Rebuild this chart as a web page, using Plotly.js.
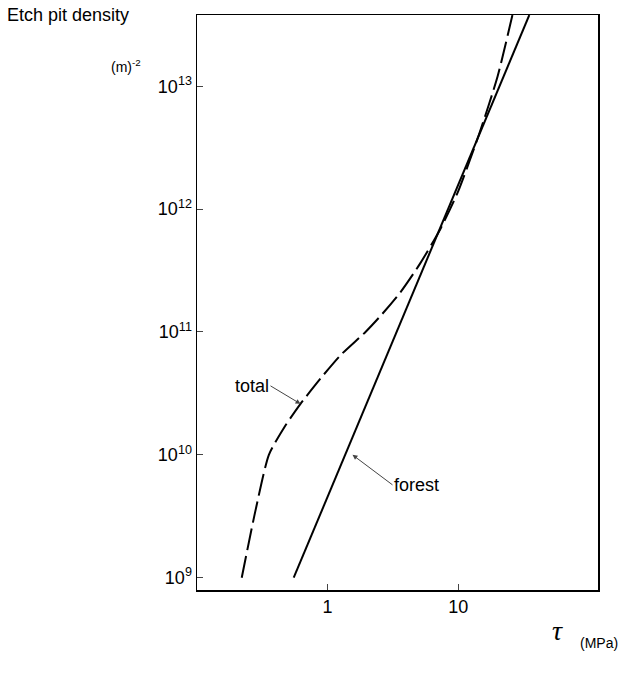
<!DOCTYPE html>
<html><head><script src="https://cdn.plot.ly/plotly-3.0.1.min.js"></script></head>
<body style="margin:0"><div id="plot" style="width:624px;height:684px"></div>
<script>
// shear stress tau (MPa) vs etch pit density (m^-2)
const forestTau = [0.55, 35];
const forestRho = [1e9, 3.8e13];
const totalTau = [0.22, 0.28, 0.355, 0.47, 0.62, 0.885, 1.26, 1.95, 2.54, 3.6, 5.1, 7.3, 10, 14.7, 20, 26];
const totalRho = [1e9, 3.5e9, 1e10, 1.7e10, 2.6e10, 4.2e10, 6.5e10, 1.0e11, 1.35e11, 2.1e11, 3.6e11, 6.9e11, 1.4e12, 4.3e12, 1.2e13, 3.8e13];
const yTicks = [1e9, 1e10, 1e11, 1e12, 1e13];
const yLabels = ["10<sup>9</sup>", "10<sup>10</sup>", "10<sup>11</sup>", "10<sup>12</sup>", "10<sup>13</sup>"];
const font = {family: "Liberation Sans, Arial, sans-serif", size: 18, color: "#000"};

const traces = [
  {x: totalTau, y: totalRho, mode: "lines", line: {color: "#000", width: 2, dash: "22px,6px", shape: "spline", smoothing: 0.6}},
  {x: forestTau, y: forestRho, mode: "lines", line: {color: "#000", width: 2}}
];

const layout = {
  showlegend: false,
  margin: {l: 197, r: 26, t: 15, b: 94},
  plot_bgcolor: "#fff", paper_bgcolor: "#fff",
  font: font,
  xaxis: {type: "log", range: [-1, 2.07], tickvals: [1, 10], ticktext: ["1", "10"],
    ticks: "inside", ticklen: 6, showgrid: false, zeroline: false,
    showline: true, mirror: true, linecolor: "#000", linewidth: 1.5, tickfont: font},
  yaxis: {type: "log", range: [8.9, 13.58], tickvals: yTicks, ticktext: yLabels,
    ticks: "inside", ticklen: 6, showgrid: false, zeroline: false,
    showline: true, mirror: true, linecolor: "#000", linewidth: 1.5, tickfont: font},
  annotations: [
    {xref: "paper", yref: "paper", x: -0.48, y: 1.0, xanchor: "left", yanchor: "bottom", yshift: -12,
      text: "Etch pit density", showarrow: false, font: font},
    {xref: "paper", yref: "paper", x: -0.22, y: 0.93, xanchor: "left", text: "(m)<sup>-2</sup>",
      showarrow: false, font: {family: font.family, size: 14, color: "#000"}},
    {xref: "paper", yref: "paper", x: 0.88, y: -0.1, xanchor: "left",
      text: "<i>τ</i>", showarrow: false, font: {family: "Liberation Serif, serif", size: 28, color: "#000"}},
    {xref: "paper", yref: "paper", x: 0.95, y: -0.11, xanchor: "left",
      text: "(MPa)", showarrow: false, font: {family: font.family, size: 14, color: "#000"}},
    {x: Math.log10(0.62), y: Math.log10(2.6e10), ax: -30, ay: -18, text: "total", arrowhead: 2,
      arrowsize: 1, arrowwidth: 1, showarrow: true, font: font, xanchor: "right"},
    {x: Math.log10(1.55), y: Math.log10(1e10), ax: 40, ay: 30, text: "forest", arrowhead: 2,
      arrowsize: 1, arrowwidth: 1, showarrow: true, font: font, xanchor: "left"}
  ]
};
Plotly.newPlot("plot", traces, layout, {staticPlot: true});
</script></body></html>
